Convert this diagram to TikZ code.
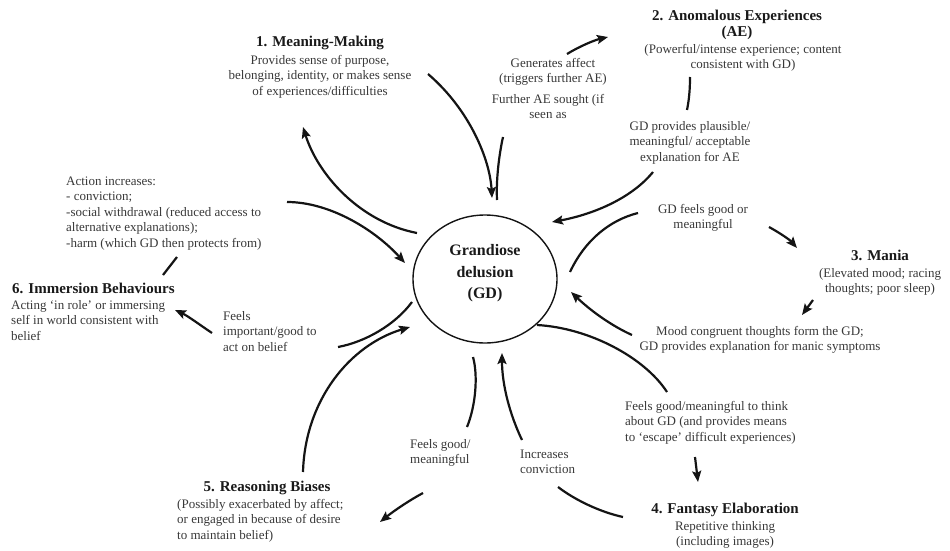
\documentclass[tikz,border=0pt]{standalone}
\usepackage{fontspec}
\setmainfont{Liberation Serif}
\usetikzlibrary{arrows.meta,shapes.geometric}
\definecolor{bodygray}{gray}{0.22}
\definecolor{titlegray}{gray}{0.1}
\definecolor{linegray}{gray}{0.08}
\begin{document}
\begin{tikzpicture}[x=1pt,y=-1pt,
  body/.style={font=\fontsize{13}{15.5}\selectfont, text=bodygray, inner sep=0pt},
  ttl/.style={font=\fontsize{15}{16}\selectfont\bfseries, text=titlegray, inner sep=0pt},
  conn/.style={line width=2.2pt, draw=linegray},
  arr/.style={conn, -{Stealth[length=11pt,width=9pt,inset=2pt]}},
]
\useasboundingbox (0,0) rectangle (950,551);

% central delusion
\node[draw=linegray, line width=1.4pt, ellipse, minimum width=144pt, minimum height=128pt, inner sep=0pt] (gd) at (485,279) {};
\node[font=\fontsize{16}{21.5}\selectfont\bfseries, align=center, text=titlegray] (gdt) at (485,273.5) {Grandiose\\delusion\\(GD)};

% 1. Meaning-making
\node[ttl, anchor=base] (mmt) at (320,47) {1. Meaning-Making};
\node[body, align=center, anchor=north] (mmb) at (320,53) {\strut Provides sense of purpose,\\ belonging, identity, or makes sense\\ of experiences/difficulties};

% 2. Anomalous experiences
\node[ttl, align=center, anchor=north] (aet) at (737,9.3) {\strut 2. Anomalous Experiences\\(AE)};
\node[body, align=center, anchor=north] (aeb) at (743,42) {\strut (Powerful/intense experience; content\\ consistent with GD)};
\node[body, align=center, anchor=north] (gen) at (553,56) {\strut Generates affect\\(triggers further AE)};
\node[body, align=center, anchor=north] (fur) at (548,92) {\strut Further AE sought (if\\ seen as};
\node[body, align=center, anchor=north] (gdp) at (690,119) {\strut GD provides plausible/\\ meaningful/ acceptable\\ explanation for AE};

% 3. Mania
\node[body, align=center, anchor=north] (gdf) at (703,202) {\strut GD feels good or\\ meaningful};
\node[ttl, anchor=base] (mat) at (880,260.5) {3. Mania};
\node[body, align=center, anchor=north] (mab) at (880,266) {\strut (Elevated mood; racing\\ thoughts; poor sleep)};
\node[body, align=center, anchor=north] (moo) at (760,324) {\strut Mood congruent thoughts form the GD;\\ GD provides explanation for manic symptoms};

% 4. Fantasy elaboration
\node[body, align=left, anchor=north west] (fgt) at (625,399) {\strut Feels good/meaningful to think\\ about GD (and provides means\\ to ‘escape’ difficult experiences)};
\node[ttl, anchor=base] (fat) at (725,513.5) {4. Fantasy Elaboration};
\node[body, align=center, anchor=north] (fab) at (725,519) {\strut Repetitive thinking\\ (including images)};
\node[body, align=left, anchor=north west] (inc) at (520,447) {\strut Increases\\ conviction};

% 5. Reasoning biases
\node[body, align=left, anchor=north west] (fgm) at (410,437) {\strut Feels good/\\ meaningful};
\node[ttl, anchor=base] (rbt) at (267,491.5) {5. Reasoning Biases};
\node[body, align=left, anchor=north west] (rbb) at (177,497) {\strut (Possibly exacerbated by affect;\\ or engaged in because of desire\\ to maintain belief)};

% 6. Immersion behaviours
\node[body, align=left, anchor=north west] (fim) at (223,309) {\strut Feels\\ important/good to\\ act on belief};
\node[ttl, anchor=base west] (imt) at (12,293.5) {6. Immersion Behaviours};
\node[body, align=left, anchor=north west] (imb) at (11,298) {\strut Acting ‘in role’ or immersing\\ self in world consistent with\\ belief};
\node[body, align=left, anchor=north west] (act) at (66,174) {\strut Action increases:\\ - conviction;\\ -social withdrawal (reduced access to\\ alternative explanations);\\ -harm (which GD then protects from)};

% connector end points
\coordinate (p1a) at (417,233);  \coordinate (p1b) at (303,127);
\coordinate (p2a) at (428,74);   \coordinate (p2b) at (492,198);
\coordinate (p3a) at (497,200);  \coordinate (p3b) at (503,137);
\coordinate (p4a) at (567,54);   \coordinate (p4b) at (608,37);
\coordinate (p5a) at (690,77);   \coordinate (p5b) at (687,110);
\coordinate (p6a) at (653,172);  \coordinate (p6b) at (552,222);
\coordinate (p7a) at (570,272);  \coordinate (p7b) at (638,213);
\coordinate (p8a) at (769,227);  \coordinate (p8b) at (797,248);
\coordinate (p9a) at (813,300);  \coordinate (p9b) at (802,315);
\coordinate (p10a) at (632,335); \coordinate (p10b) at (571,292);
\coordinate (p11a) at (537,325); \coordinate (p11b) at (667,392);
\coordinate (p12a) at (695,457); \coordinate (p12b) at (698,482);
\coordinate (p13a) at (623,517); \coordinate (p13b) at (558,487);
\coordinate (p14a) at (522,440); \coordinate (p14b) at (502,353);
\coordinate (p15a) at (473,357); \coordinate (p15b) at (467,427);
\coordinate (p16a) at (423,493); \coordinate (p16b) at (380,522);
\coordinate (p17a) at (303,472); \coordinate (p17b) at (410,327);
\coordinate (p18a) at (412,302); \coordinate (p18b) at (338,347);
\coordinate (p19a) at (212,333); \coordinate (p19b) at (175,310);
\coordinate (p20a) at (163,275); \coordinate (p20b) at (177,257);
\coordinate (p21a) at (287,202); \coordinate (p21b) at (405,263);

\draw[arr]  (p1a) .. controls (360,222) and (318,175) .. (p1b);
\draw[arr]  (p2a) .. controls (470,110) and (490,160) .. (p2b);
\draw[conn] (p3a) .. controls (496,180) and (499,155) .. (p3b);
\draw[arr]  (p4a) .. controls (580,46) and (595,40) .. (p4b);
\draw[conn] (p5a) .. controls (690,90) and (689,100) .. (p5b);
\draw[arr]  (p6a) .. controls (630,200) and (590,215) .. (p6b);
\draw[conn] (p7a) .. controls (585,240) and (610,220) .. (p7b);
\draw[arr]  (p8a) .. controls (780,233) and (790,240) .. (p8b);
\draw[arr]  (p9a) -- (p9b);
\draw[arr]  (p10a) .. controls (610,325) and (590,310) .. (p10b);
\draw[conn] (p11a) .. controls (590,328) and (645,358) .. (p11b);
\draw[arr]  (p12a) -- (p12b);
\draw[conn] (p13a) .. controls (600,512) and (575,500) .. (p13b);
\draw[arr]  (p14a) .. controls (510,415) and (502,385) .. (p14b);
\draw[conn] (p15a) .. controls (478,375) and (476,405) .. (p15b);
\draw[arr]  (p16a) .. controls (410,500) and (395,510) .. (p16b);
\draw[arr]  (p17a) .. controls (305,400) and (350,345) .. (p17b);
\draw[conn] (p18a) .. controls (395,325) and (365,342) .. (p18b);
\draw[arr]  (p19a) .. controls (200,325) and (188,316) .. (p19b);
\draw[conn] (p20a) -- (p20b);
\draw[arr]  (p21a) .. controls (330,202) and (375,230) .. (p21b);
\end{tikzpicture}
\end{document}
